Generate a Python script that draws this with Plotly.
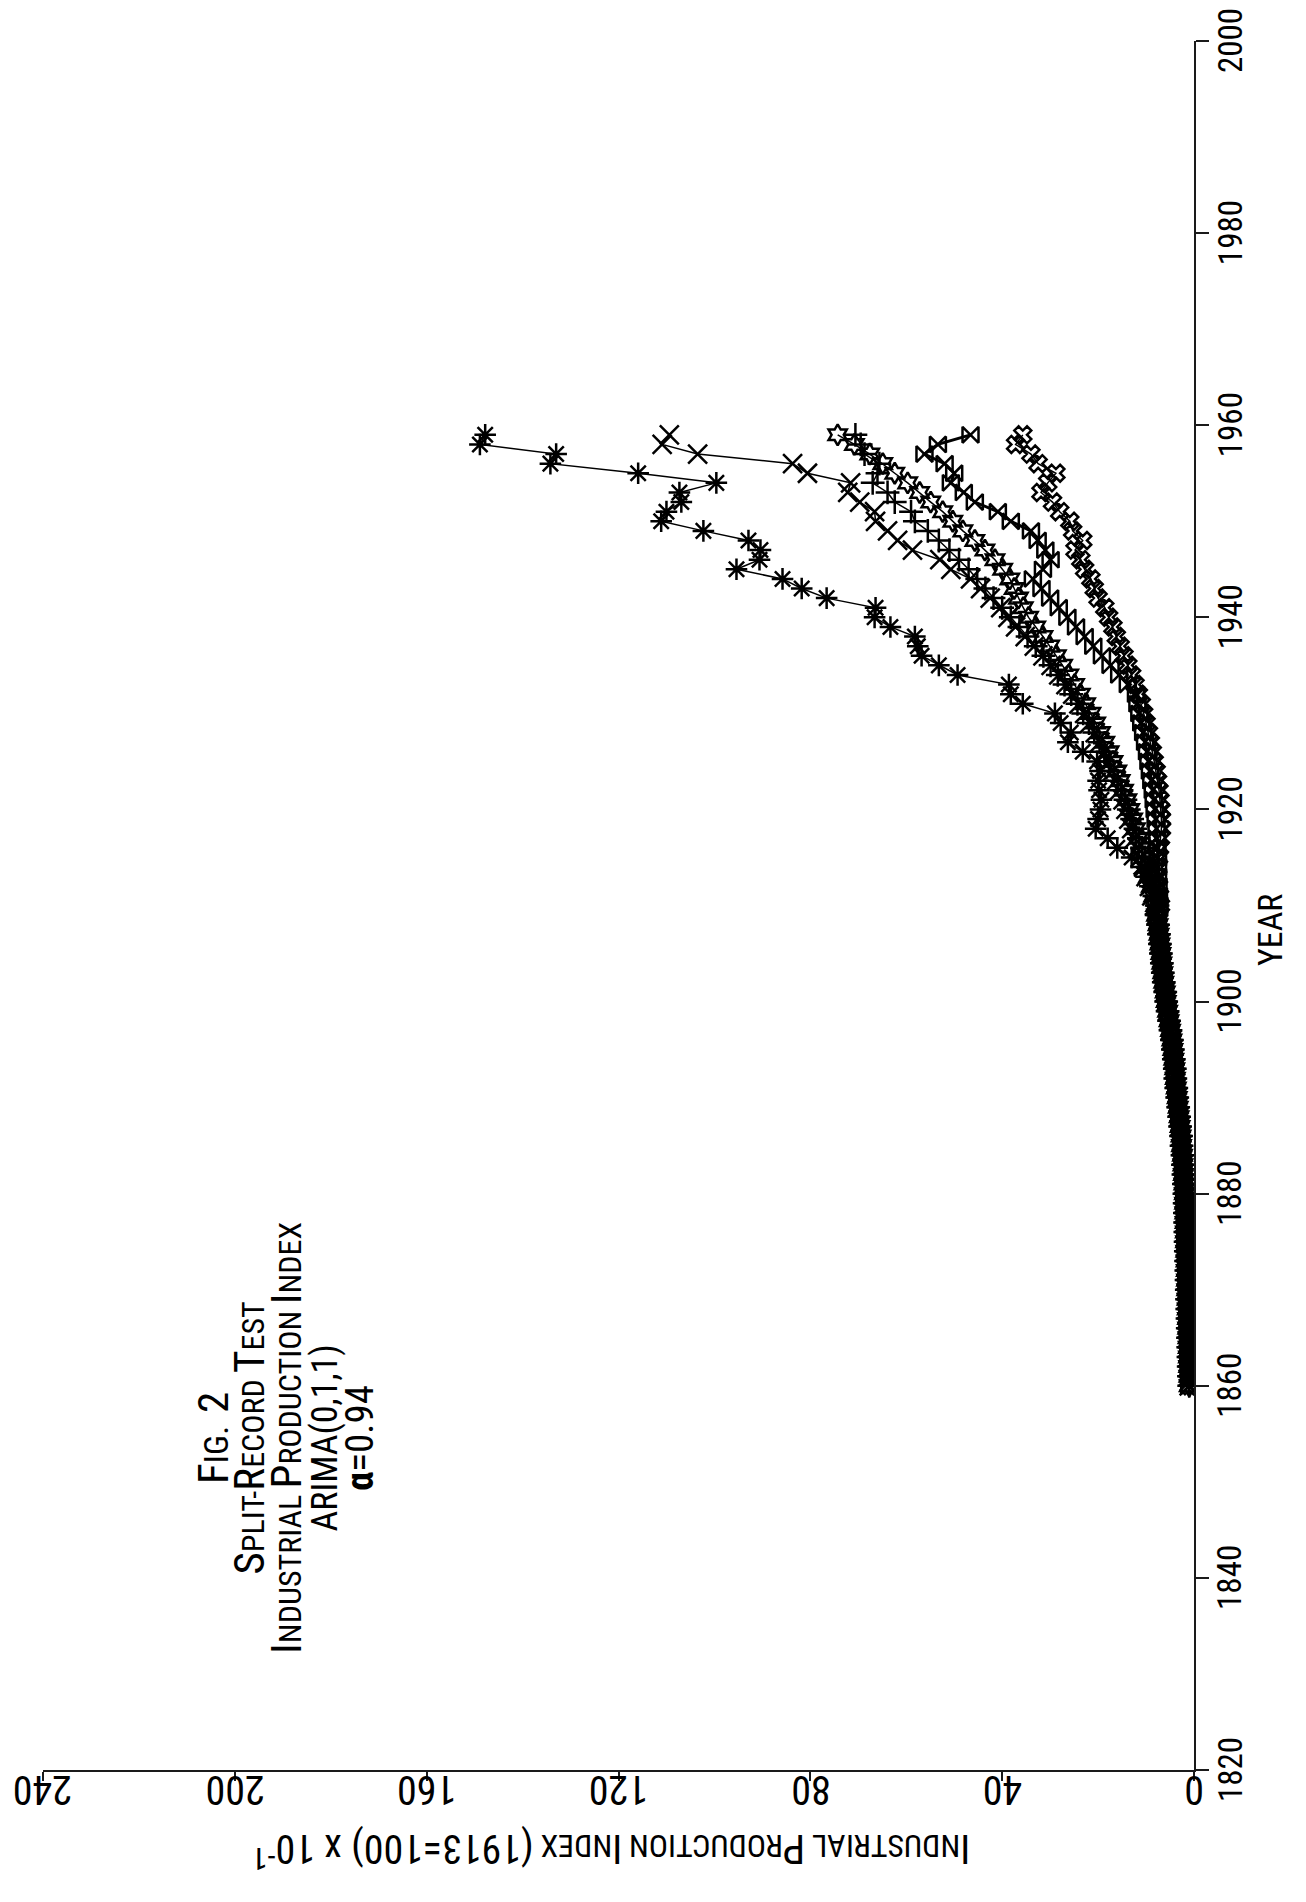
import plotly.graph_objects as go

# ---------------- data ----------------
years_base = list(range(1860, 1910))
base_1860_1909 = [1.0, 1.05, 1.1, 1.15, 1.2, 1.25, 1.3, 1.35, 1.4, 1.45,
                  1.5, 1.55, 1.6, 1.65, 1.7, 1.75, 1.8, 1.85, 1.9, 1.95,
                  2.0, 2.1, 2.2, 2.3, 2.4, 2.6, 2.7, 2.9, 3.1, 3.3,
                  3.5, 3.7, 3.9, 4.0, 4.2, 4.4, 4.6, 4.9, 5.2, 5.5,
                  5.8, 6.0, 6.3, 6.5, 6.7, 6.9, 7.1, 7.3, 7.5, 7.8]

years_split = list(range(1910, 1960))

star_1910_1959 = [8.0, 8.5, 9.2, 10.0, 11.0, 13.0, 16.0, 18.0, 20.5, 20.0,
                  19.5, 19.3, 19.8, 20.0, 19.6, 20.2, 23.2, 26.3, 25.7, 27.8,
                  29.0, 35.7, 38.2, 38.6, 49.3, 53.2, 56.8, 57.6, 58.2, 63.3,
                  66.6, 66.4, 76.6, 81.8, 85.8, 95.4, 90.6, 90.4, 92.9, 102.3,
                  111.1, 110.0, 106.9, 107.3, 99.6, 115.9, 134.2, 133.0, 148.9, 147.8]

xmark_1910_1959 = [8.2, 8.8, 9.3, 10.0, 10.5, 11.2, 11.8, 12.4, 13.0, 13.6,
                   14.2, 14.8, 15.5, 16.2, 17.0, 17.8, 18.7, 19.6, 20.6, 21.7,
                   22.8, 24.0, 25.3, 26.7, 28.2, 29.8, 31.5, 33.3, 35.2, 37.2,
                   38.8, 40.3, 42.5, 44.5, 46.6, 50.7, 53.0, 58.7, 61.8, 63.9,
                   66.4, 66.6, 69.7, 72.2, 71.6, 80.6, 83.7, 103.5, 110.9, 109.4]

hexa_1910_1959 = [8.0, 8.4, 8.9, 9.5, 10.0, 10.5, 11.0, 11.6, 12.2, 12.8,
                  13.4, 14.0, 14.7, 15.4, 16.1, 16.9, 17.7, 18.6, 19.5, 20.5,
                  21.5, 22.6, 23.7, 24.9, 26.1, 27.4, 28.7, 30.1, 31.5, 33.0,
                  34.5, 35.6, 36.6, 37.5, 38.4, 39.9, 41.5, 43.6, 45.7, 48.2,
                  50.3, 52.4, 54.9, 57.2, 59.7, 62.4, 64.9, 67.6, 70.8, 74.3]

cross_1910_1959 = [7.6, 8.0, 8.5, 9.0, 9.6, 10.2, 10.8, 11.5, 12.2, 12.9,
                   13.6, 14.3, 15.1, 15.9, 16.8, 17.7, 18.7, 19.7, 20.8, 21.9,
                   23.1, 24.3, 25.6, 27.0, 28.4, 29.9, 31.4, 33.0, 34.7, 36.4,
                   38.2, 40.0, 41.8, 43.5, 45.2, 47.0, 49.0, 51.0, 53.2, 55.5,
                   58.2, 59.0, 62.4, 63.9, 67.0, 66.0, 65.6, 68.7, 69.5, 70.6]

bowtie_1910_1959 = [7.2, 7.3, 7.4, 7.5, 7.5, 7.5, 7.6, 7.7, 7.8, 8.0,
                    8.2, 8.4, 8.6, 8.9, 9.2, 9.5, 9.8, 10.2, 10.6, 11.0,
                    11.4, 11.8, 12.1, 13.8, 15.6, 17.4, 19.2, 21.0, 22.8, 24.6,
                    26.4, 28.2, 30.0, 31.8, 33.6, 31.5, 29.9, 31.0, 32.6, 34.0,
                    38.2, 40.9, 45.7, 48.0, 50.7, 50.0, 52.0, 56.2, 53.4, 46.6]

clover_1910_1959 = [7.0, 7.2, 7.4, 7.6, 7.6, 7.4, 7.2, 7.0, 6.8, 6.8,
                    6.9, 7.1, 7.3, 7.6, 7.9, 8.3, 8.7, 9.1, 9.5, 10.0,
                    10.5, 11.0, 11.6, 12.3, 13.0, 13.8, 14.6, 15.4, 16.2, 16.9,
                    17.8, 18.6, 20.0, 20.8, 21.5, 22.8, 23.6, 24.8, 23.2, 25.3,
                    25.9, 28.0, 29.5, 31.9, 30.5, 28.8, 32.5, 34.0, 37.2, 35.7]

x_tick_vals = [0, 40, 80, 120, 160, 200, 240]
x_tick_text = ["0", "40", "80", "120", "160", "200", "240"]
y_tick_vals = [1820, 1840, 1860, 1880, 1900, 1920, 1940, 1960, 1980, 2000]
y_tick_text = ["1820", "1840", "1860", "1880", "1900", "1920", "1940", "1960", "1980", "2000"]

# ---------------- figure ----------------
FONT = "Liberation Sans Narrow, Roboto Condensed, DejaVu Sans Condensed, Liberation Mono, monospace"

series = [
    ("bowtie", bowtie_1910_1959, "bowtie-open", 16, 3.0),
    ("clover", clover_1910_1959, "x-open", 15, 1.5),
    ("cross", cross_1910_1959, "cross-thin-open", 17, 1.5),
    ("hexagram", hexa_1910_1959, "hexagram-open", 16, 1.5),
    ("x", xmark_1910_1959, "x-thin-open", 19, 1.5),
    ("star", star_1910_1959, "asterisk-open", 18, 1.5),
]

fig = go.Figure()
years_all = years_base + years_split
for name, vals, sym, size, lw in series:
    fig.add_trace(go.Scatter(
        x=base_1860_1909 + vals,
        y=years_all,
        mode="lines+markers",
        name=name,
        line=dict(color="black", width=lw),
        marker=dict(symbol=sym, size=size, color="black",
                    line=dict(color="black", width=2.5)),
        showlegend=False,
    ))

fig.update_layout(
    width=1306, height=1902,
    margin=dict(l=35, r=120, t=33, b=140),
    paper_bgcolor="white", plot_bgcolor="white",
    font=dict(family=FONT, color="black"),
    xaxis=dict(
        range=[240, 0], tickvals=x_tick_vals, showticklabels=False,
        showline=True, linecolor="#1a1a1a", linewidth=2,
        ticks="outside", ticklen=9, tickwidth=2, tickcolor="#1a1a1a",
        showgrid=False, zeroline=False,
    ),
    yaxis=dict(
        range=[1820, 2000], tickvals=y_tick_vals, side="right", showticklabels=False,
        showline=True, linecolor="#1a1a1a", linewidth=2,
        ticks="outside", ticklen=13, tickwidth=2, tickcolor="#1a1a1a",
        showgrid=False, zeroline=False,
    ),
)

# tick labels placed on the axes' own scales (upside-down / rotated as in the scan)
for v, t in zip(x_tick_vals, x_tick_text):
    fig.add_annotation(
        text=t, x=v, xref="x", y=-0.0116, yref="paper", textangle=180,
        xanchor="center", yanchor="middle", showarrow=False,
        font=dict(size=40, family=FONT, color="black"),
    )
for v, t in zip(y_tick_vals, y_tick_text):
    fig.add_annotation(
        text=t, x=1.0313, xref="paper", y=v, yref="y", textangle=-90,
        xanchor="center", yanchor="middle", showarrow=False, borderpad=0,
        font=dict(size=33, family=FONT, color="black"),
    )

B = '<span style="font-size:43px">'
S = '<span style="font-size:32px">'
E = '</span>'
title_text = (
    f'{B}F{E}<span style="font-size:34px">IG.</span>  {B}2{E}<br>'
    f"{B}S{E}{S}PLIT-{E}{B}R{E}{S}ECORD{E} {B}T{E}{S}EST{E}<br>"
    f"{B}I{E}{S}NDUSTRIAL{E} {B}P{E}{S}RODUCTION{E} {B}I{E}{S}NDEX{E}<br>"
    f'<span style="font-size:36px">ARIMA(0,1,1)</span><br>'
    f'<span style="font-size:39px"><b>α</b>=0.94</span>'
)
fig.add_annotation(
    text=title_text, textangle=-90, xref="paper", yref="paper",
    x=0.2110, y=0.192, xanchor="center", yanchor="middle",
    showarrow=False, align="center", font=dict(size=28, family=FONT, color="black"),
)

BB = '<span style="font-size:40px">'
SS = '<span style="font-size:32px">'
axis_title = (
    f"{BB}I{E}{SS}NDUSTRIAL{E} {BB}P{E}{SS}RODUCTION{E} {BB}I{E}{SS}NDEX{E} "
    f"{BB}(1913=100) x 10{E}<sup>{SS}-1{E}</sup>"
)
fig.add_annotation(
    text=axis_title, textangle=180, xref="paper", yref="paper",
    x=0.494, y=-0.0468, xanchor="center", yanchor="middle",
    showarrow=False, font=dict(size=30, family=FONT, color="black"),
)

fig.add_annotation(
    text="YEAR", textangle=-90, xref="paper", yref="paper",
    x=1.0660, y=0.4858, xanchor="center", yanchor="middle",
    showarrow=False, font=dict(size=34, family=FONT, color="black"),
)

fig.write_html("out.html")
